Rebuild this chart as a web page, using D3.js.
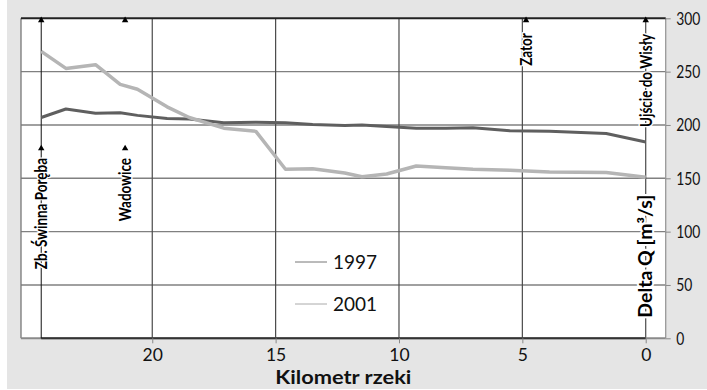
<!DOCTYPE html>
<html>
<head>
<meta charset="utf-8">
<script src="https://d3js.org/d3.v7.min.js"></script>
<style>
  body { margin: 0; background: #fff; }
  .gill { font-family: Lato, "Open Sans", sans-serif; }
</style>
</head>
<body>
<svg id="chart" width="707" height="390"></svg>
<script>
// river kilometre of each measurement point
var km = [24.5, 23.5, 22.3, 21.3, 20.6, 19.4, 18.5, 17.1, 15.8, 14.6, 13.5, 12.2, 11.5, 10.5, 9.3, 8.1, 7.0, 5.5, 3.9, 1.6, 0];
var q1997 = [207, 215, 211, 211.5, 209, 206, 205.5, 202, 202.5, 202, 200.5, 199.5, 200, 198.5, 197, 197, 197.5, 194.5, 194, 192, 184];
var q2001 = [269, 253, 256.5, 238, 233.5, 217, 207, 197, 194, 158.5, 159, 155, 151.5, 154, 161.5, 160, 158.5, 157.5, 156, 155.5, 151];

var seriesNames = ["1997", "2001"];
var seriesColors = ["#5f5f5f", "#b5b5b5"];

var xTicks = [20, 15, 10, 5, 0];
var yTicks = [0, 50, 100, 150, 200, 250, 300];

// places along the river
var places = ["Zb. Świnna Poręba", "Wadowice", "Zator", "Ujście do Wisły"];
var placeKm = [24.5, 21.1, 4.85, 0];

var svg = d3.select("#chart");

var plotL = 21, plotR = 665.7, plotT = 18.3, plotB = 338.3;
var squeeze = 0.77; // condensed look for labels

var x = d3.scaleLinear().domain([25.32, -0.81]).range([plotL, plotR]);
var y = d3.scaleLinear().domain([0, 300]).range([plotB, plotT]);

// background
svg.append("rect").attr("x", 7).attr("y", 0).attr("width", 700).attr("height", 389).attr("fill", "#e5e5e5");
svg.append("rect").attr("x", plotL).attr("y", plotT).attr("width", plotR - plotL).attr("height", plotB - plotT).attr("fill", "#fff");

// horizontal grid
svg.append("g").selectAll("line")
  .data(yTicks.filter(d => d > 0 && d < 300))
  .enter().append("line")
  .attr("x1", plotL).attr("x2", plotR)
  .attr("y1", d => y(d)).attr("y2", d => y(d))
  .attr("stroke", "#808080").attr("stroke-width", 1.4);

// vertical grid
svg.append("g").selectAll("line")
  .data(xTicks)
  .enter().append("line")
  .attr("x1", d => x(d)).attr("x2", d => x(d))
  .attr("y1", plotT).attr("y2", plotB)
  .attr("stroke", "#4a4a4a").attr("stroke-width", 1.2);

// frame
svg.append("line").attr("x1", plotL).attr("x2", plotL).attr("y1", plotT).attr("y2", plotB).attr("stroke", "#777").attr("stroke-width", 1.3);
svg.append("line").attr("x1", plotR).attr("x2", plotR).attr("y1", plotT).attr("y2", plotB).attr("stroke", "#999").attr("stroke-width", 1.3);
svg.append("line").attr("x1", plotL).attr("x2", plotR).attr("y1", plotB).attr("y2", plotB).attr("stroke", "#8a8a8a").attr("stroke-width", 2);
svg.append("line").attr("x1", x(24.5)).attr("x2", x(0)).attr("y1", plotB).attr("y2", plotB).attr("stroke", "#333").attr("stroke-width", 2);
svg.append("line").attr("x1", plotL).attr("x2", plotR).attr("y1", plotT).attr("y2", plotT).attr("stroke", "#222").attr("stroke-width", 2);

// Zb. Świnna Poręba marker line
svg.append("line")
  .attr("x1", x(placeKm[0])).attr("x2", x(placeKm[0]))
  .attr("y1", plotT).attr("y2", plotB)
  .attr("stroke", "#111").attr("stroke-width", 1);

// data lines
var line = d3.line().x((d, i) => x(km[i])).y(d => y(d));
[q1997, q2001].forEach(function (s, i) {
  svg.append("path")
    .datum(s)
    .attr("d", line)
    .attr("fill", "none")
    .attr("stroke", seriesColors[i])
    .attr("stroke-width", i == 0 ? 3 : 3.5)
    .attr("stroke-linejoin", "round");
});

// right axis
var yAxis = svg.append("g")
  .attr("transform", "translate(" + plotR + ",0)")
  .call(d3.axisRight(y).tickValues(yTicks).tickSize(5).tickPadding(6));
yAxis.select(".domain").remove();
yAxis.selectAll("line").attr("stroke", "#888");
yAxis.selectAll("text")
  .attr("class", "gill")
  .attr("x", 0)
  .attr("transform", "translate(10.5,0) scale(" + squeeze + ",1)")
  .attr("font-size", 18).attr("fill", "#111");

// bottom axis
var xAxis = svg.append("g")
  .attr("transform", "translate(0," + plotB + ")")
  .call(d3.axisBottom(x).tickValues(xTicks).tickSize(5).tickPadding(5));
xAxis.select(".domain").remove();
xAxis.selectAll("line").attr("stroke", "#888");
xAxis.selectAll("text")
  .attr("class", "gill")
  .attr("font-size", 17.5).attr("fill", "#111");

svg.append("text")
  .attr("class", "gill")
  .attr("x", (plotL + plotR) / 2).attr("y", 384)
  .attr("text-anchor", "middle")
  .attr("font-size", 18.5).attr("font-weight", "bold").attr("fill", "#111")
  .attr("textLength", 136).attr("lengthAdjust", "spacingAndGlyphs")
  .text("Kilometr rzeki");

// place markers
var arrow = d3.symbol().type(d3.symbolTriangle).size(18);
var topArrows = svg.append("g");
placeKm.forEach(function (k, i) {
  topArrows.append("path")
    .attr("d", arrow)
    .attr("transform", "translate(" + x(k) + "," + (plotT + 2) + ")")
    .attr("fill", "#000");
  if (i < 2) {
    topArrows.append("path")
      .attr("d", arrow)
      .attr("transform", "translate(" + x(k) + "," + y(178) + ")")
      .attr("fill", "#000");
  }
});

// label tops (in data units)
var labelTop = [169, 169, 286, 285.5];
svg.append("g").selectAll("text")
  .data(places)
  .enter().append("text")
  .attr("class", "gill")
  .attr("transform", (d, i) => "translate(" + x(placeKm[i]) + "," + y(labelTop[i]) + ") rotate(-90) scale(" + squeeze + ",1)")
  .attr("text-anchor", "end")
  .attr("dy", "0.35em")
  .attr("font-size", 17.5)
  .attr("font-weight", "bold")
  .attr("fill", "#000")
  .attr("stroke", "#fff").attr("stroke-width", 3).attr("paint-order", "stroke")
  .text(d => d);

// y axis title
svg.append("text")
  .attr("class", "gill")
  .attr("transform", "translate(" + x(0) + "," + y(77) + ") rotate(-90)")
  .attr("text-anchor", "middle")
  .attr("dy", "0.35em")
  .attr("font-size", 18).attr("font-weight", "bold").attr("fill", "#000")
  .attr("stroke", "#fff").attr("stroke-width", 4).attr("paint-order", "stroke")
  .attr("textLength", 123).attr("lengthAdjust", "spacingAndGlyphs")
  .text("Delta Q [m³/s]");

// legend
var legend = svg.append("g").attr("transform", "translate(295,262)");
seriesNames.forEach(function (name, i) {
  var g = legend.append("g").attr("transform", "translate(0," + (i * 42) + ")");
  g.append("line").attr("x1", 0).attr("x2", 32).attr("y1", 0).attr("y2", 0)
    .attr("stroke", i == 0 ? "#777" : "#aaa").attr("stroke-width", 1);
  g.append("text")
    .attr("class", "gill")
    .attr("x", 38).attr("y", 0).attr("dy", "0.36em")
    .attr("font-size", 19).attr("fill", "#111")
    .text(name);
});
</script>
</body>
</html>
